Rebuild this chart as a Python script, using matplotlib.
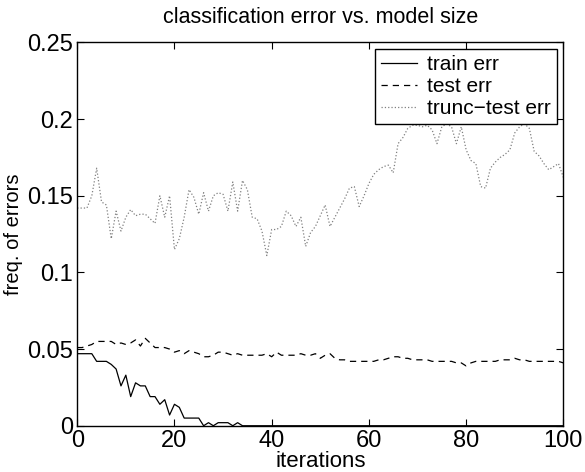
import matplotlib
matplotlib.use("Agg")
import matplotlib.pyplot as plt
import numpy as np

plt.rcParams["font.family"] = ["Liberation Sans", "DejaVu Sans"]

# train err, visible part (iterations 0..34), zero afterwards
train_x = list(range(0, 101))
train_err = [0.047, 0.047, 0.047, 0.047, 0.042, 0.042, 0.042, 0.040, 0.037, 0.026,
             0.033, 0.019, 0.028, 0.026, 0.026, 0.019, 0.019, 0.014, 0.017, 0.007,
             0.014, 0.012, 0.005, 0.005, 0.005, 0.005, 0.000, 0.002, 0.000, 0.002,
             0.002, 0.002, 0.000, 0.002, 0.000] + [0.0] * 66

test_x = list(range(0, 101))
test_err = [0.051, 0.051, 0.052, 0.053, 0.055, 0.055, 0.055, 0.055, 0.053, 0.054,
            0.053, 0.054, 0.056, 0.052, 0.057, 0.054, 0.051, 0.051, 0.051, 0.050,
            0.048, 0.049, 0.047, 0.049, 0.048, 0.047, 0.045, 0.045, 0.046, 0.048,
            0.048, 0.047, 0.046, 0.047, 0.046, 0.046, 0.046, 0.046, 0.046, 0.047,
            0.045, 0.048, 0.046, 0.046, 0.046, 0.046, 0.047, 0.046, 0.046, 0.047,
            0.044, 0.046, 0.047, 0.044, 0.043, 0.043, 0.042, 0.042, 0.042, 0.042,
            0.042, 0.042, 0.043, 0.043, 0.044, 0.045, 0.045, 0.044, 0.044, 0.043,
            0.043, 0.043, 0.043, 0.042, 0.042, 0.042, 0.042, 0.042, 0.041, 0.041,
            0.039, 0.041, 0.042, 0.042, 0.042, 0.042, 0.042, 0.043, 0.043, 0.043,
            0.044, 0.043, 0.043, 0.042, 0.042, 0.042, 0.042, 0.042, 0.042, 0.042,
            0.041]

trunc_x = list(range(0, 101))
trunc_err = [0.142, 0.142, 0.142, 0.150, 0.168, 0.146, 0.144, 0.122, 0.140, 0.127,
             0.136, 0.141, 0.137, 0.138, 0.138, 0.135, 0.132, 0.150, 0.136, 0.150,
             0.115, 0.122, 0.136, 0.154, 0.149, 0.138, 0.152, 0.140, 0.150, 0.152,
             0.151, 0.140, 0.159, 0.140, 0.160, 0.154, 0.136, 0.135, 0.127, 0.111,
             0.128, 0.128, 0.130, 0.140, 0.137, 0.130, 0.136, 0.117, 0.126, 0.130,
             0.137, 0.144, 0.130, 0.136, 0.142, 0.148, 0.155, 0.156, 0.143, 0.150,
             0.158, 0.164, 0.167, 0.169, 0.170, 0.165, 0.184, 0.188, 0.194, 0.196,
             0.196, 0.195, 0.196, 0.193, 0.184, 0.195, 0.197, 0.195, 0.184, 0.195,
             0.180, 0.173, 0.171, 0.156, 0.155, 0.168, 0.172, 0.175, 0.177, 0.180,
             0.191, 0.195, 0.197, 0.194, 0.179, 0.176, 0.171, 0.167, 0.169, 0.171,
             0.162]

fig = plt.figure(figsize=(5.85, 4.72), dpi=100)
ax = fig.add_axes([0.132, 0.098, 0.831, 0.812])

ax.plot(train_x, train_err, "-", color="black", lw=0.9, label="train err")
ax.plot(test_x, test_err, "--", color="black", lw=0.9, dashes=(5, 4), label="test err")
ax.plot(trunc_x, trunc_err, ":", color="0.5", lw=0.9, label="trunc\u2212test err")

ax.set_xlim(0, 100)
ax.set_ylim(0, 0.25)
ax.set_xticks([0, 20, 40, 60, 80, 100])
ax.set_yticks([0, 0.05, 0.1, 0.15, 0.2, 0.25])
ax.set_yticklabels(["0", "0.05", "0.1", "0.15", "0.2", "0.25"])
ax.tick_params(direction="in", top=True, right=True, length=5, width=0.8,
               labelsize=17, pad=3)
for s in ax.spines.values():
    s.set_linewidth(1.0)

ax.set_title("classification error vs. model size", fontsize=15.5, pad=14)
ax.set_xlabel("iterations", fontsize=16, labelpad=-1)
ax.set_ylabel("freq. of errors", fontsize=14.5, labelpad=3)

leg = ax.legend(loc="upper right", fontsize=15, frameon=True, fancybox=False,
                edgecolor="black", framealpha=1, borderpad=0.3, labelspacing=0.15,
                handlelength=1.7, handletextpad=0.5, borderaxespad=0.3)
leg.get_frame().set_linewidth(1.0)
leg.set_zorder(5)

fig.savefig("out.png", dpi=100)
